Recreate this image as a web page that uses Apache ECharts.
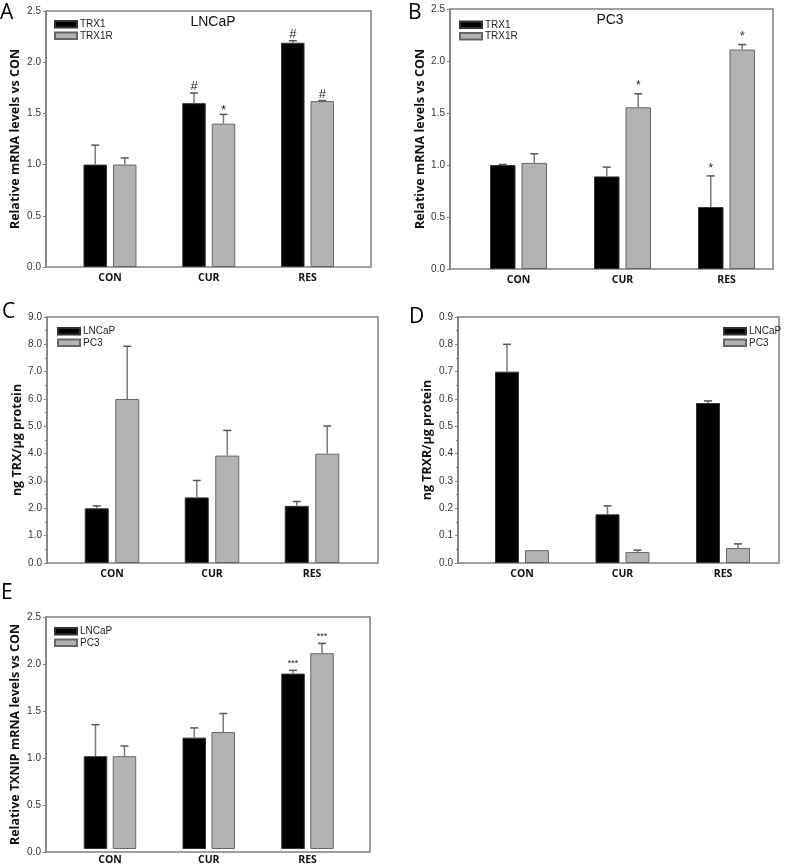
<!DOCTYPE html>
<html><head><meta charset="utf-8">
<script src="https://cdn.jsdelivr.net/npm/echarts@6/dist/echarts.min.js"></script>
<style>html,body{margin:0;padding:0;background:#fff}#c{width:796px;height:866px}</style>
</head><body><div id="c"></div>
<script>
// ---------------- DATA ----------------
const categories = ['CON', 'CUR', 'RES'];

// Panel A - LNCaP
const A_TRX1      = [1.00, 1.60, 2.19];
const A_TRX1_err  = [1.19, 1.70, 2.21];
const A_TRX1_mark = ['', '#', '#'];
const A_TRX1R      = [1.00, 1.40, 1.62];
const A_TRX1R_err  = [1.065, 1.49, 1.625];
const A_TRX1R_mark = ['', '*', '#'];

// Panel B - PC3
const B_TRX1      = [1.00, 0.89, 0.595];
const B_TRX1_err  = [1.005, 0.98, 0.895];
const B_TRX1_mark = ['', '', '*'];
const B_TRX1R      = [1.02, 1.555, 2.11];
const B_TRX1R_err  = [1.108, 1.685, 2.158];
const B_TRX1R_mark = ['', '*', '*'];

// Panel C - ng TRX / ug protein
const C_LNCaP     = [2.00, 2.40, 2.09];
const C_LNCaP_err = [2.09, 3.02, 2.25];
const C_PC3       = [6.00, 3.93, 4.00];
const C_PC3_err   = [7.93, 4.85, 5.01];

// Panel D - ng TRXR / ug protein
const D_LNCaP     = [0.700, 0.178, 0.585];
const D_LNCaP_err = [0.800, 0.209, 0.593];
const D_PC3       = [0.047, 0.040, 0.055];
const D_PC3_err   = [null, 0.047, 0.070];

// Panel E - TXNIP
const E_LNCaP      = [1.00, 1.20, 1.89];
const E_LNCaP_err  = [1.34, 1.305, 1.925];
const E_LNCaP_mark = ['', '', '***'];
const E_PC3        = [1.00, 1.26, 2.11];
const E_PC3_err    = [1.11, 1.46, 2.215];
const E_PC3_mark   = ['', '', '***'];

// ---------------- STYLE / LAYOUT ----------------
const FRAME = '#808080';
const BLACK = {color: '#000000', borderColor: '#333333', borderWidth: 1};
const GREY  = {color: '#b3b3b3', borderColor: '#666666', borderWidth: 1};
const TICKFONT = 'Liberation Sans';
const BOLDFONT = 'Open Sans';

const panels = [
  {letter: 'A', lx: 0, ly: 3, frame: [46, 11, 325, 256], barGrid: [60.6, 296.3], barW: 23.5, gap: 6,
   ymax: 2.5, step: 0.5, minor: false, yname: 'Relative mRNA levels vs CON', nameGap: 24,
   title: 'LNCaP', tx: 213, ty: 15.5, legend: [54, 18.5], markSize: 13, starGap: 7, hashGap: 6.5,
   series: [
     {name: 'TRX1', vals: A_TRX1, errs: A_TRX1_err, marks: A_TRX1_mark, st: BLACK},
     {name: 'TRX1R', vals: A_TRX1R, errs: A_TRX1R_err, marks: A_TRX1R_mark, st: GREY}]},
  {letter: 'B', lx: 408, ly: 3, frame: [450, 9, 323, 260], barGrid: [466.5, 312], barW: 25.5, gap: 6,
   ymax: 2.5, step: 0.5, minor: false, yname: 'Relative mRNA levels vs CON', nameGap: 22,
   title: 'PC3', tx: 610, ty: 13.5, legend: [459, 19], markSize: 12, starGap: 10.5, hashGap: 6.5,
   extendBase: 16,
   series: [
     {name: 'TRX1', vals: B_TRX1, errs: B_TRX1_err, marks: B_TRX1_mark, st: BLACK},
     {name: 'TRX1R', vals: B_TRX1R, errs: B_TRX1R_err, marks: B_TRX1R_mark, st: GREY}]},
  {letter: 'C', lx: 2, ly: 302, frame: [47, 317, 331, 246], barGrid: [62, 300], barW: 24, gap: 6.5,
   ymax: 9, step: 1, minor: true, yname: 'ng TRX/\u03bcg protein', nameGap: 21,
   legend: [57, 325.5], markSize: 12, starGap: 8, hashGap: 6.5,
   series: [
     {name: 'LNCaP', vals: C_LNCaP, errs: C_LNCaP_err, marks: null, st: BLACK},
     {name: 'PC3', vals: C_PC3, errs: C_PC3_err, marks: null, st: GREY}]},
  {letter: 'D', lx: 409, ly: 307, frame: [458, 317, 321, 246], barGrid: [471.75, 301.5], barW: 24, gap: 6,
   ymax: 0.9, step: 0.1, minor: true, yname: 'ng TRXR/\u03bcg protein', nameGap: 24,
   legend: [723, 325.5], markSize: 12, starGap: 8, hashGap: 6.5,
   series: [
     {name: 'LNCaP', vals: D_LNCaP, errs: D_LNCaP_err, marks: null, st: BLACK},
     {name: 'PC3', vals: D_PC3, errs: D_PC3_err, marks: null, st: GREY}]},
  {letter: 'E', lx: 1, ly: 583, frame: [46, 617, 324, 235], barGrid: [60.6, 296.3], barW: 23.5, gap: 5.5,
   ymax: 2.5, step: 0.5, minor: false, yname: 'Relative TXNIP mRNA levels vs CON', nameGap: 24,
   legend: [54, 625.5], markSize: 9, starGap: 9.5, hashGap: 6.5,
   series: [
     {name: 'LNCaP', vals: E_LNCaP, errs: E_LNCaP_err, marks: E_LNCaP_mark, st: BLACK},
     {name: 'PC3', vals: E_PC3, errs: E_PC3_err, marks: E_PC3_mark, st: GREY}]}
];

function errRender(vals, errs, marks, off, p) {
  return function (params, api) {
    const i = params.dataIndex;
    const base = api.coord([i, vals[i]]);
    const x = base[0] + off;
    let topY = base[1];
    const children = [];
    if (errs[i] != null) {
      topY = api.coord([i, errs[i]])[1];
      children.push({type: 'line', shape: {x1: x, y1: base[1], x2: x, y2: topY},
        style: {stroke: '#7a7a7a', lineWidth: 1.5}});
      children.push({type: 'line', shape: {x1: x - 4, y1: topY, x2: x + 4, y2: topY},
        style: {stroke: '#555555', lineWidth: 1.5}});
    }
    if (marks && marks[i]) {
      const m = marks[i];
      const isStar = m.indexOf('*') >= 0;
      const y = isStar ? topY - p.starGap + 0.24 * p.markSize : topY - p.hashGap;
      children.push({type: 'text', style: {text: m, x: x, y: y,
        align: 'center', verticalAlign: 'middle',
        fontSize: p.markSize, fontFamily: TICKFONT, fill: '#222'}});
    }
    return {type: 'group', children: children};
  };
}

const option = {animation: false, backgroundColor: '#ffffff',
  grid: [], xAxis: [], yAxis: [], series: [], legend: [], title: []};

panels.forEach((p, k) => {
  const fi = 2 * k, bi = 2 * k + 1;
  const [fl, ft, fw, fh] = p.frame;
  option.grid.push({left: fl, top: ft, width: fw, height: fh, show: true,
    borderColor: FRAME, borderWidth: 1.5, backgroundColor: 'transparent', containLabel: false});
  option.grid.push({left: p.barGrid[0], top: ft, width: p.barGrid[1], height: fh, containLabel: false});
  option.xAxis.push({gridIndex: fi, type: 'value', min: 0, max: 1, show: false});
  option.xAxis.push({gridIndex: bi, type: 'category', data: categories,
    axisLine: {show: false}, axisTick: {show: false},
    axisLabel: {fontFamily: BOLDFONT, fontWeight: 'bold', fontSize: 10.5, color: '#111', margin: 6}});
  option.yAxis.push({gridIndex: fi, type: 'value', min: 0, max: p.ymax, interval: p.step,
    axisLine: {show: true, lineStyle: {color: FRAME, width: 1.5}},
    axisTick: {show: true, inside: false, length: 3, lineStyle: {color: FRAME, width: 1}},
    minorTick: {show: p.minor, splitNumber: 2, length: 2, lineStyle: {color: FRAME}},
    splitLine: {show: false},
    axisLabel: {formatter: v => v.toFixed(1), fontFamily: TICKFONT, fontSize: 10, color: '#333', margin: 5},
    name: p.yname, nameLocation: 'middle', nameGap: p.nameGap,
    nameTextStyle: {fontFamily: BOLDFONT, fontWeight: 'bold', fontSize: 12.5, color: '#111'}});
  option.yAxis.push({gridIndex: bi, type: 'value', min: 0, max: p.ymax, show: false});

  const off = (p.barW + p.gap) / 2;
  p.series.forEach((s) => {
    option.series.push({type: 'bar', name: s.name, xAxisIndex: bi, yAxisIndex: bi,
      data: s.vals, barWidth: p.barW, barGap: (p.gap / p.barW * 100).toFixed(1) + '%',
      itemStyle: s.st, silent: true, z: 2});
  });
  p.series.forEach((s, j) => {
    option.series.push({type: 'custom', name: s.name + '_err', xAxisIndex: bi, yAxisIndex: bi,
      data: categories.map((c, i) => [i, s.errs[i] != null ? s.errs[i] : s.vals[i]]),
      renderItem: errRender(s.vals, s.errs, s.marks, j === 0 ? -off : off, p),
      silent: true, z: 3});
  });
  option.legend.push({data: p.series.map(s => s.name), left: p.legend[0], top: p.legend[1],
    orient: 'vertical', icon: 'rect', itemWidth: 22, itemHeight: 6.5, itemGap: 0,
    textStyle: {fontFamily: TICKFONT, fontSize: 10, color: '#222', lineHeight: 11.5, padding: [0, 0, 0, -2]},
    selectedMode: false, padding: 0});
  option.title.push({text: p.letter, left: p.lx, top: p.ly,
    textStyle: {fontFamily: 'Open Sans', fontWeight: 'normal', fontSize: 21, color: '#000'}, padding: 0});
  if (p.title) {
    option.title.push({text: p.title, left: p.tx, top: p.ty, textAlign: 'center',
      textStyle: {fontFamily: TICKFONT, fontWeight: 'normal', fontSize: 14, color: '#111'}, padding: 0});
  }
});

const chart = echarts.init(document.getElementById('c'), null, {renderer: 'canvas'});
chart.setOption(option);
</script>
</body></html>
